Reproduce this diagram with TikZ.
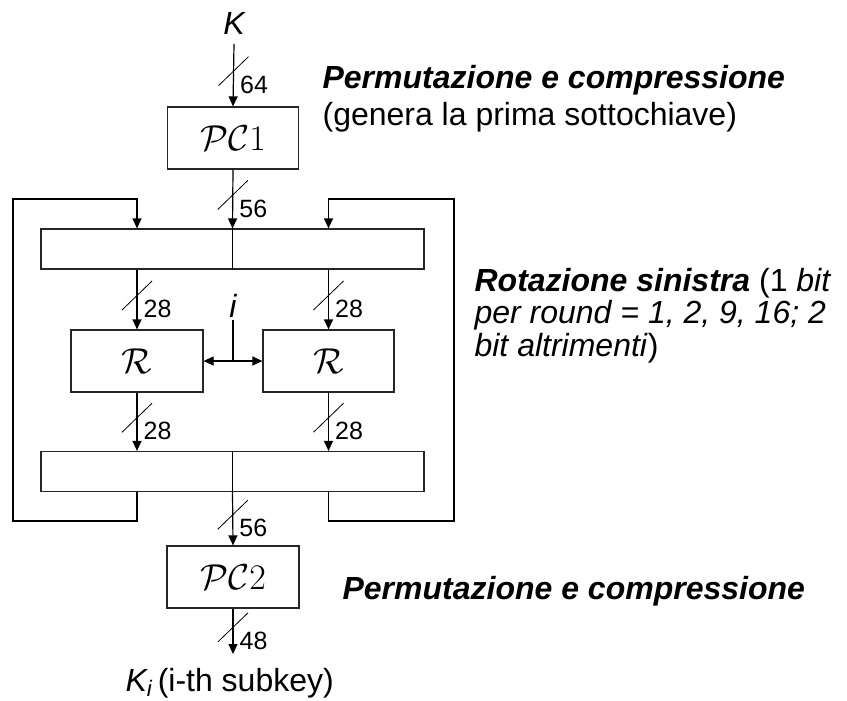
\documentclass[tikz,border=0pt]{standalone}
\usepackage{fix-cm}
\usepackage[no-math]{fontspec}
\setmainfont{Liberation Sans}
\usepackage{amsmath}
\usetikzlibrary{arrows.meta, calc}
\newcommand\boxW{131}
\newcommand\boxH{62}
\newcommand\barW{383}
\newcommand\barH{40}
\newcommand\textFont{\fontsize{32}{37}\selectfont}
\newcommand{\busMark}[4]{
    \coordinate (#4) at ($(#1)!0.5!(#2)+(0,-4)$);
    \draw[line width=0.8pt] ($(#4)+(-15,14.5)$) -- ($(#4)+(15,-14.5)$);
    \node[num] (#4l) at ($(#4)+(6,4)$) {#3};
}

\begin{document}
\begin{tikzpicture}[x=1pt, y=-1pt, line width=1.2pt,
        arr/.style={-{Triangle[width=9pt,length=10pt]}},
        blk/.style={draw, black!85, minimum width=\boxW pt, minimum height=\boxH pt, inner sep=0pt, text=black, font=\fontsize{36}{40}\selectfont},
        bar/.style={draw, black!85, minimum width=\barW pt, minimum height=\barH pt, inner sep=0pt},
        num/.style={anchor=north west, inner sep=0pt, font=\fontsize{25}{28}\selectfont},
        txt/.style={anchor=base west, align=left, inner sep=0pt, font=\textFont}]
        \useasboundingbox (0,0) rectangle (847,701);

        % key input and first permutation
        \node[anchor=base, font=\textFont\itshape] (key) at (234,35) {K};
        \node[blk] (pcA) at (233,138) {$\mathcal{PC}1$};
        \node[bar] (barA) at (232.5,249) {};
        \node[blk, minimum width=132pt] (rotA) at (137,361) {$\mathcal{R}$};
        \node[blk] (rotB) at (328.5,361) {$\mathcal{R}$};
        \node[bar] (barB) at (232.5,471.5) {};
        \node[blk, minimum width=132pt] (pcB) at (233,577) {$\mathcal{PC}2$};
        \node[anchor=base, inner sep=2pt, font=\textFont\itshape] (idx) at (233,317) {i};
        \node[txt] (subkey) at (125,691) {\textit{K\textsubscript{i}}\,(i-th subkey)};

        \draw[arr] (key.south) ++(0,5) coordinate (keyOut) -- (pcA.north);
        \busMark{keyOut}{pcA.north}{64}{mA}
        \draw[arr] (pcA.south) -- (barA.north);
        \busMark{pcA.south}{barA.north}{56}{mB}
        \draw (barA.north) -- (barA.south);

        % left and right halves
        \draw[arr] (rotA |- barA.south) -- (rotA.north);
        \busMark{rotA |- barA.south}{rotA.north}{28}{mC}
        \draw[arr] (rotB |- barA.south) -- (rotB.north);
        \busMark{rotB |- barA.south}{rotB.north}{28}{mD}
        \draw[arr] (rotA.south) -- (rotA |- barB.north);
        \busMark{rotA.south}{rotA |- barB.north}{28}{mE}
        \draw[arr] (rotB.south) -- (rotB |- barB.north);
        \busMark{rotB.south}{rotB |- barB.north}{28}{mF}

        \draw[{Triangle[width=9pt,length=10pt]}-{Triangle[width=9pt,length=10pt]}] (rotA.east) -- (rotB.west);
        \draw (idx.south) -- (idx.south |- rotA.east);

        % feedback
        \coordinate (loopAB) at (13,521);
        \coordinate (loopAT) at (13,199);
        \coordinate (loopBB) at (454,521);
        \coordinate (loopBT) at (454,199);
        \draw[arr] (rotA |- barB.south) |- (loopAB) -- (loopAT) -| (rotA |- barA.north);
        \draw[arr] (rotB |- barB.south) |- (loopBB) -- (loopBT) -| (rotB |- barA.north);

        % second permutation
        \draw (barB.north) -- (barB.south);
        \draw[arr] (barB.south) -- (pcB.north);
        \busMark{barB.south}{pcB.north}{56}{mG}
        \draw[arr] (pcB.south) -- (pcB.south |- 0,654) coordinate (keyEnd);
        \busMark{pcB.south}{keyEnd}{48}{mH}

        % notes
        \node[txt] (noteA) at (322,125) {\textbf{\textit{Permutazione e compressione}}\\(genera la prima sottochiave)};
        \node[txt, font=\fontsize{32}{32.5}\selectfont] (noteB) at (474,356) {\textbf{\textit{Rotazione sinistra}} (1 \textit{bit}\\\textit{per round = 1, 2, 9, 16; 2}\\\textit{bit altrimenti})};
        \node[txt] (noteC) at (342,599) {\textbf{\textit{Permutazione e compressione}}};
\end{tikzpicture}
\end{document}
